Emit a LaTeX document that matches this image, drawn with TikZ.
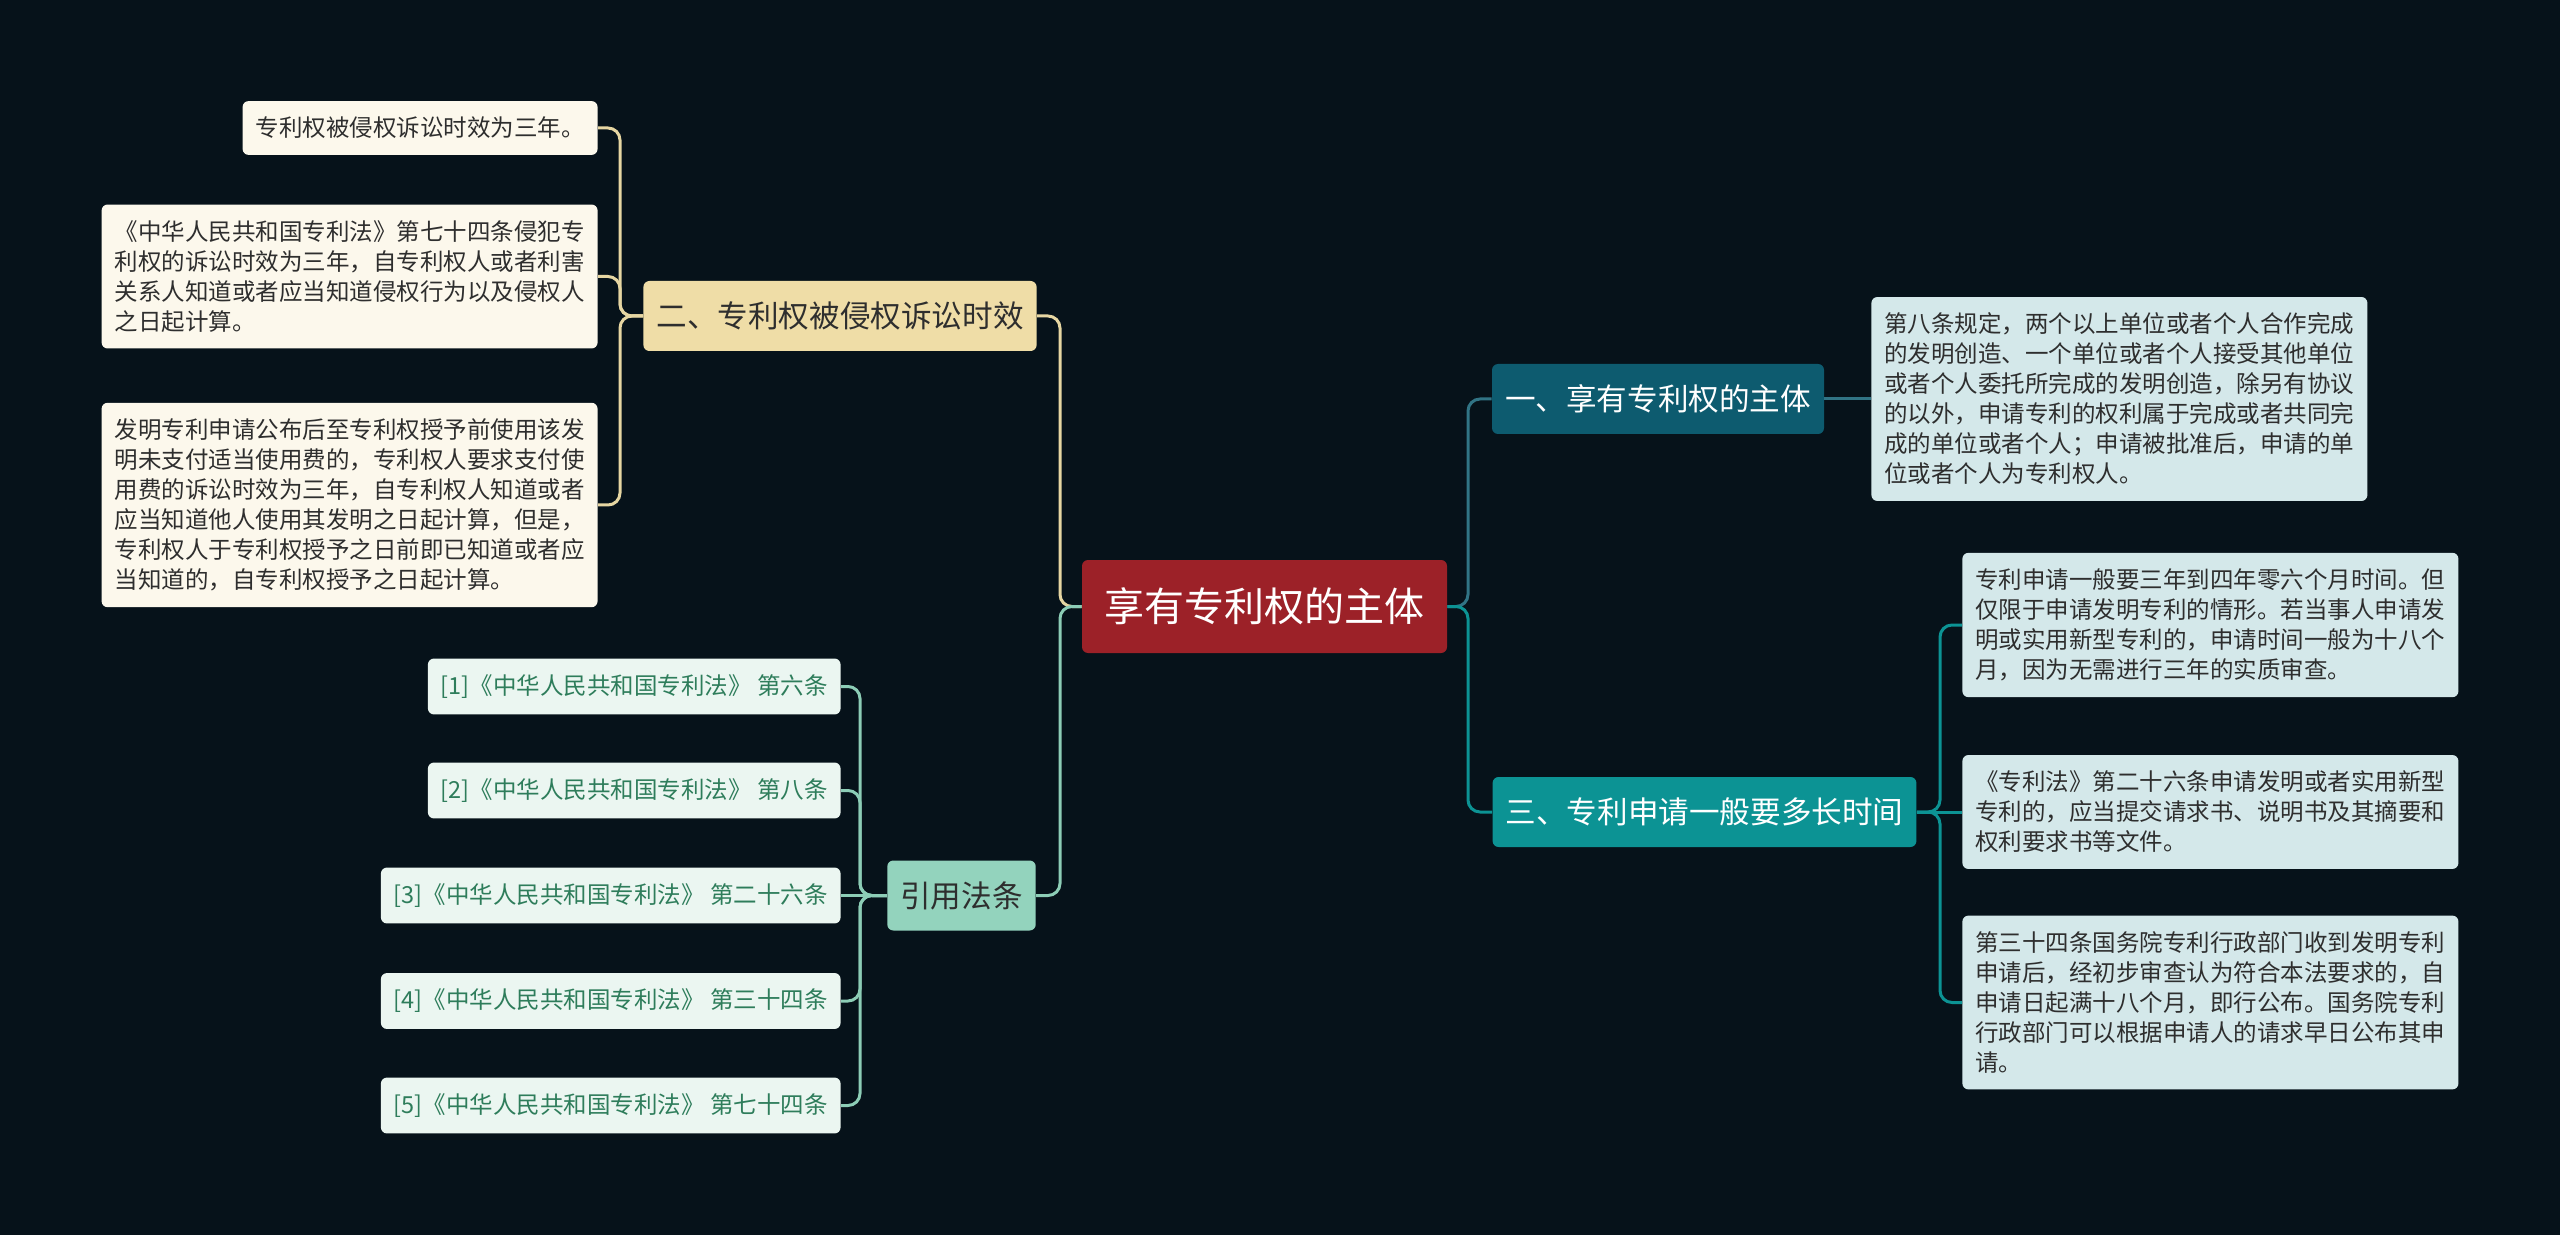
\documentclass[tikz,border=0pt]{standalone}
\usepackage{fontspec}
\setmainfont{Noto Sans CJK SC}
\usetikzlibrary{positioning}
\usepackage{xcolor}

\definecolor{bgnavy}{HTML}{06121A}
\definecolor{rootred}{HTML}{9C2128}
\definecolor{tanfill}{HTML}{EFDDA7}
\definecolor{tanline}{HTML}{E6D6A2}
\definecolor{creamfill}{HTML}{FCF8EC}
\definecolor{mintfill}{HTML}{93D3BD}
\definecolor{mintline}{HTML}{8CCDB6}
\definecolor{citefill}{HTML}{EBF6F1}
\definecolor{citetext}{HTML}{2E7D5B}
\definecolor{tealdark}{HTML}{0D5B6F}
\definecolor{teallight}{HTML}{0C9394}
\definecolor{bluefill}{HTML}{D4E8EA}
\definecolor{inkgray}{HTML}{2E2E2E}

\begin{document}
\begin{tikzpicture}[x=0.5pt,y=-0.5pt,
  box/.style={rounded corners=3pt, inner xsep=6.5pt, inner ysep=0pt, align=left},
  rootbox/.style={box, fill=rootred, text=white, minimum width=182.5pt, minimum height=46.5pt, align=center, font=\fontsize{20}{24}\selectfont},
  topicbox/.style={box, minimum height=35pt, font=\fontsize{15.3}{18}\selectfont},
  leafbox/.style={box, inner ysep=8pt, font=\fontsize{11.75}{15}\selectfont},
  link/.style={line width=1.5pt, rounded corners=6pt}
]

% background
\fill[bgnavy] (0,0) rectangle (2560,1235);
\useasboundingbox (0,0) rectangle (2560,1235);

% centre and main topics
\node[rootbox] (root) at (1264.5,606.5) {享有专利权的主体};

\node[topicbox, fill=tanfill, text=inkgray] (b2) at (840,316) {二、专利权被侵权诉讼时效};
\node[topicbox, fill=mintfill, text=inkgray] (cite) at (961.5,895.5) {引用法条};
\node[topicbox, fill=tealdark, text=white] (b1) at (1658,399) {一、享有专利权的主体};
\node[topicbox, fill=teallight, text=white] (b3) at (1704.5,812) {三、专利申请一般要多长时间};

% left leaves
\node[leafbox, fill=creamfill, text=inkgray, anchor=east] (l1) at (598,128) {专利权被侵权诉讼时效为三年。};
\node[leafbox, fill=creamfill, text=inkgray, anchor=east] (l2) at (598,276.5) {《中华人民共和国专利法》第七十四条侵犯专\\利权的诉讼时效为三年，自专利权人或者利害\\关系人知道或者应当知道侵权行为以及侵权人\\之日起计算。};
\node[leafbox, fill=creamfill, text=inkgray, anchor=east] (l3) at (598,505) {发明专利申请公布后至专利权授予前使用该发\\明未支付适当使用费的，专利权人要求支付使\\用费的诉讼时效为三年，自专利权人知道或者\\应当知道他人使用其发明之日起计算，但是，\\专利权人于专利权授予之日前即已知道或者应\\当知道的，自专利权授予之日起计算。};

\node[leafbox, fill=citefill, text=citetext, anchor=east] (r1) at (841,686.5) {[1]《中华人民共和国专利法》 第六条};
\node[leafbox, fill=citefill, text=citetext, anchor=east] (r2) at (841,790.5) {[2]《中华人民共和国专利法》 第八条};
\node[leafbox, fill=citefill, text=citetext, anchor=east] (r3) at (841,895.5) {[3]《中华人民共和国专利法》 第二十六条};
\node[leafbox, fill=citefill, text=citetext, anchor=east] (r4) at (841,1001) {[4]《中华人民共和国专利法》 第三十四条};
\node[leafbox, fill=citefill, text=citetext, anchor=east] (r5) at (841,1105.5) {[5]《中华人民共和国专利法》 第七十四条};

% right leaves
\node[leafbox, fill=bluefill, text=inkgray, anchor=west] (d1) at (1871,399) {第八条规定，两个以上单位或者个人合作完成\\的发明创造、一个单位或者个人接受其他单位\\或者个人委托所完成的发明创造，除另有协议\\的以外，申请专利的权利属于完成或者共同完\\成的单位或者个人；申请被批准后，申请的单\\位或者个人为专利权人。};
\node[leafbox, fill=bluefill, text=inkgray, anchor=west] (d2) at (1962,625) {专利申请一般要三年到四年零六个月时间。但\\仅限于申请发明专利的情形。若当事人申请发\\明或实用新型专利的，申请时间一般为十八个\\月，因为无需进行三年的实质审查。};
\node[leafbox, fill=bluefill, text=inkgray, anchor=west] (d3) at (1962,812) {《专利法》第二十六条申请发明或者实用新型\\专利的，应当提交请求书、说明书及其摘要和\\权利要求书等文件。};
\node[leafbox, fill=bluefill, text=inkgray, anchor=west] (d4) at (1962,1002.5) {第三十四条国务院专利行政部门收到发明专利\\申请后，经初步审查认为符合本法要求的，自\\申请日起满十八个月，即行公布。国务院专利\\行政部门可以根据申请人的请求早日公布其申\\请。};

% connectors
\coordinate (jl) at (1060,606.5);
\coordinate (jr) at (1468,606.5);
\coordinate (t2) at (620,316);
\coordinate (tc) at (860,895.5);
\coordinate (t3) at (1940,812);

\draw[link, tanline] (root.west) -- (jl) |- (b2.east);
\draw[link, mintline] (root.west) -- (jl) |- (cite.east);
\draw[link, tealdark!85!white] (root.east) -- (jr) |- (b1.west);
\draw[link, teallight] (root.east) -- (jr) |- (b3.west);

\foreach \n in {l1,l2,l3}
  \draw[link, tanline] (b2.west) -- (t2) |- (\n.east);
\foreach \n in {r1,r2,r4,r5}
  \draw[link, mintline] (cite.west) -- (tc) |- (\n.east);
\draw[link, mintline] (cite.west) -- (r3.east);
\draw[link, tealdark!85!white] (b1.east) -- (d1.west);
\foreach \n in {d2,d4}
  \draw[link, teallight] (b3.east) -- (t3) |- (\n.west);
\draw[link, teallight] (b3.east) -- (d3.west);

\end{tikzpicture}
\end{document}
